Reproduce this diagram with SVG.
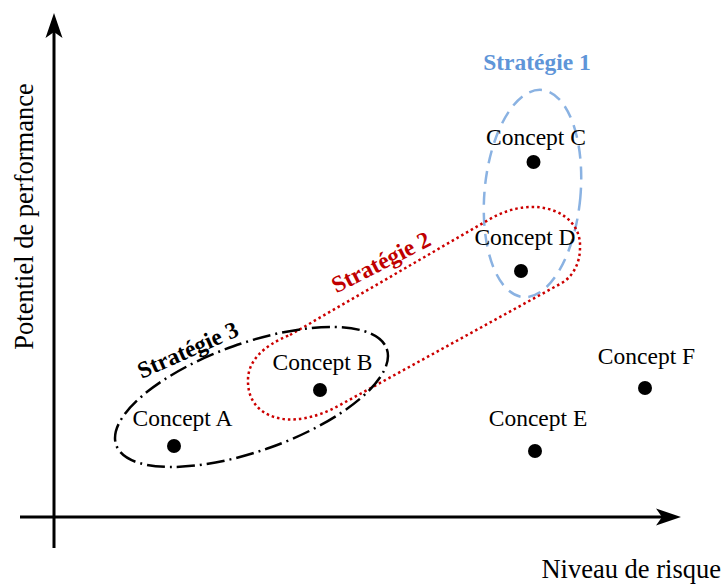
<svg xmlns="http://www.w3.org/2000/svg" width="724" height="586" viewBox="0 0 724 586">
<style>
  .lbl{font-family:"Liberation Serif","Times New Roman",serif;font-size:23.5px;fill:#000;text-anchor:middle}
  .ax{font-family:"Liberation Serif","Times New Roman",serif;font-size:26.5px;fill:#000}
  .strat{font-family:"Liberation Serif","Times New Roman",serif;font-size:23.5px;font-weight:bold;text-anchor:middle}
  .dot{fill:#000}
  .axis{stroke:#000;stroke-width:3;fill:none}
</style>
<defs>
  <marker id="arrow" markerUnits="userSpaceOnUse" markerWidth="40" markerHeight="40" refX="0" refY="0" orient="auto" overflow="visible">
    <path d="M15,0 L-10,-8.5 L-4,0 L-10,8.5 Z" fill="#000"/>
  </marker>
</defs>
<rect width="724" height="586" fill="#fff"/>

<g id="axes">
  <line class="axis" x1="54" y1="548" x2="54" y2="28" marker-end="url(#arrow)"/>
  <line class="axis" x1="20" y1="517" x2="666" y2="517" marker-end="url(#arrow)"/>
  <text class="ax" x="33" y="216.5" text-anchor="middle" transform="rotate(-90 33 216.5)">Potentiel de performance</text>
  <text class="ax" x="721" y="578" text-anchor="end">Niveau de risque</text>
</g>

<g id="connectors">
  <g id="strategie1">
    <ellipse cx="532.5" cy="193.5" rx="48" ry="104" transform="rotate(5.2 532.5 193.5)" fill="none" stroke="#8ab2e2" stroke-width="2.5" stroke-dasharray="13 8"/>
    <text class="strat" x="537" y="70" fill="#5f95d8">Stratégie 1</text>
  </g>
  <g id="strategie2">
    <path d="M290,335 L490,219 C535,193 582,212 580,248 C580,264 572,278 560,284 L340,405 C290,433 247,418 248,380 C248,362 262,346 290,335 Z" fill="none" stroke="#cc0000" stroke-width="2.5" stroke-dasharray="2.5 3"/>
    <text class="strat" x="384.5" y="269" fill="#c00000" transform="rotate(-27 384.5 269)">Stratégie 2</text>
  </g>
  <g id="strategie3">
    <ellipse cx="251.5" cy="397" rx="143.6" ry="53.9" transform="rotate(-19.6 251.5 397)" fill="none" stroke="#000" stroke-width="2.5" stroke-dasharray="18 5 2 5"/>
    <text class="strat" x="191" y="357" fill="#000" transform="rotate(-24 191 357)">Stratégie 3</text>
  </g>
</g>

<g id="conceptA"><circle class="dot" cx="174" cy="446" r="7"/><text class="lbl" x="182.5" y="426">Concept A</text></g>
<g id="conceptB"><circle class="dot" cx="320" cy="390" r="7"/><text class="lbl" x="322.5" y="370">Concept B</text></g>
<g id="conceptC"><circle class="dot" cx="533.5" cy="162" r="7"/><text class="lbl" x="536" y="145">Concept C</text></g>
<g id="conceptD"><circle class="dot" cx="521" cy="271" r="7"/><text class="lbl" x="525" y="245">Concept D</text></g>
<g id="conceptE"><circle class="dot" cx="535" cy="451" r="7"/><text class="lbl" x="538" y="426">Concept E</text></g>
<g id="conceptF"><circle class="dot" cx="645" cy="388" r="7"/><text class="lbl" x="646.5" y="364">Concept F</text></g>
</svg>
